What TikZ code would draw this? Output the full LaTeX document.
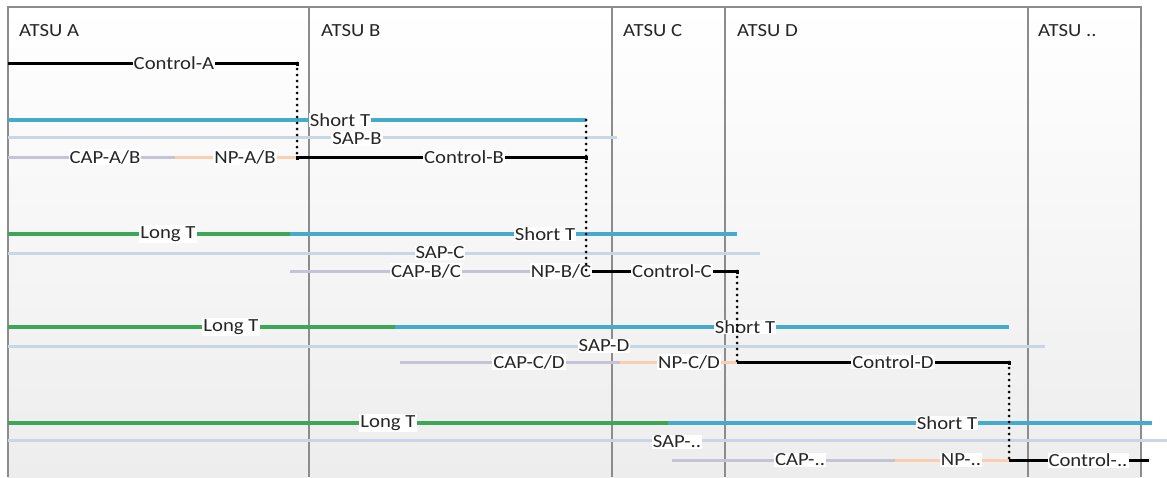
\documentclass[tikz,border=0pt]{standalone}
\usepackage{fontspec}
\setmainfont{Carlito}[FakeStretch=1.12]
\usepackage{tikz}
\definecolor{tblue}{RGB}{70,170,205}
\definecolor{tgreen}{RGB}{60,168,85}
\definecolor{sapc}{RGB}{200,214,230}
\definecolor{capc}{RGB}{196,196,214}
\definecolor{npc}{RGB}{250,206,176}
\definecolor{divc}{RGB}{140,140,140}
\definecolor{bgc}{RGB}{237,237,237}

\begin{document}
\begin{tikzpicture}[x=1pt,y=-1pt,
  lbl/.style={fill=white,inner sep=1pt,text=black!85,font=\fontsize{18.5}{19}\selectfont},
  hdr/.style={anchor=west,inner sep=1pt,text=black!85,font=\fontsize{18.5}{19}\selectfont},
  ctl/.style={line width=3pt,black},
  shortt/.style={line width=3.5pt,tblue},
  longt/.style={line width=3.5pt,tgreen},
  sapline/.style={line width=3pt,sapc},
  capline/.style={line width=3pt,capc},
  npline/.style={line width=3pt,npc},
  hand/.style={line width=3pt,dash pattern=on 0pt off 6pt,line cap=round},
  divline/.style={line width=2pt,divc}]
\useasboundingbox (0,0) rectangle (1167,477);
\fill[top color=white,bottom color=bgc] (8,7) rectangle (1141,477);
\draw[divline] (8,477) -- (8,7) -- (1141,7) -- (1141,477);
\draw[divline] (309,7) -- (309,477);
\draw[divline] (612,7) -- (612,477);
\draw[divline] (725,7) -- (725,477);
\draw[divline] (1028,7) -- (1028,477);
\node[hdr] (hA) at (18,31) {ATSU A};
\node[hdr] (hB) at (320,31) {ATSU B};
\node[hdr] (hC) at (622,31) {ATSU C};
\node[hdr] (hD) at (736,31) {ATSU D};
\node[hdr] (hE) at (1037,31) {ATSU ..};
\coordinate (ctlAend) at (297,63);
\coordinate (stBend) at (586,120);
\coordinate (ctlBstart) at (297,157);
\coordinate (ctlCstart) at (586,271);
\coordinate (ctlCend) at (737,271);
\coordinate (ctlDstart) at (737,362);
\coordinate (ctlDend) at (1009,362);
\coordinate (ctlEstart) at (1009,460);
\draw[ctl] (8,63) -- (ctlAend) -- ++(0,3);
\draw[shortt] (8,120) -- (stBend);
\draw[sapline] (8,137) -- (617,137);
\draw[capline] (8,157) -- (175,157);
\draw[npline] (175,157) -- (ctlBstart);
\draw[ctl] ([yshift=-3pt]ctlBstart) -- (ctlBstart) -- (586,157) -- ++(0,3);
\node[lbl] (lctlA) at (174,63) {Control-A};
\node[lbl] (lstB) at (340,120) {Short T};
\node[lbl] (lsapB) at (357,139) {SAP-B};
\node[lbl] (lcapAB) at (105,157) {CAP-A/B};
\node[lbl] (lnpAB) at (245,157) {NP-A/B};
\node[lbl] (lctlB) at (464,157) {Control-B};
\draw[longt] (8,234) -- (290,234);
\draw[shortt] (290,234) -- (737,234);
\draw[sapline] (8,253) -- (760,253);
\draw[capline] (290,271) -- (530,271);
\draw[npline] (530,271) -- (ctlCstart);
\draw[ctl] (ctlCstart) -- (ctlCend) -- ++(0,3);
\node[lbl] (lltC) at (168,234) {Long T};
\node[lbl] (lstC) at (545,234) {Short T};
\node[lbl] (lsapC) at (440,253) {SAP-C};
\node[lbl] (lcapBC) at (426,271) {CAP-B/C};
\node[lbl] (lnpBC) at (561,271) {NP-B/C};
\node[lbl] (lctlC) at (672,271) {Control-C};
\draw[longt] (8,327) -- (395,327);
\draw[shortt] (395,327) -- (ctlDend |- 0,327);
\draw[sapline] (8,346) -- (1045,346);
\draw[capline] (400,362) -- (620,362);
\draw[npline] (620,362) -- (ctlDstart);
\draw[ctl] (ctlDstart) -- (ctlDend) -- ++(0,3);
\node[lbl] (lltD) at (231,327) {Long T};
\node[lbl] (lstD) at (745,327) {Short T};
\node[lbl] (lsapD) at (604,346) {SAP-D};
\node[lbl] (lcapCD) at (529,362) {CAP-C/D};
\node[lbl] (lnpCD) at (689,362) {NP-C/D};
\node[lbl] (lctlD) at (893,362) {Control-D};
\draw[longt] (8,423) -- (668,423);
\draw[shortt] (668,423) -- (1152,423);
\draw[sapline] (8,440) -- (1167,440);
\draw[capline] (672,460) -- (895,460);
\draw[npline] (895,460) -- (ctlEstart);
\draw[ctl] (ctlEstart) -- (1149,460);
\node[lbl] (lltE) at (388,423) {Long T};
\node[lbl] (lstE) at (947,423) {Short T};
\node[lbl] (lsapE) at (677,442) {SAP-..};
\node[lbl] (lcapDE) at (800,460) {CAP-..};
\node[lbl] (lnpDE) at (961,460) {NP-..};
\node[lbl] (lctlE) at (1088,460) {Control-..};
\draw[hand] (ctlAend) -- (ctlBstart);
\draw[hand] (stBend) -- (ctlCstart);
\draw[hand] (ctlCend) -- (ctlDstart);
\draw[hand] (ctlDend) -- (ctlEstart);
\end{tikzpicture}
\end{document}
